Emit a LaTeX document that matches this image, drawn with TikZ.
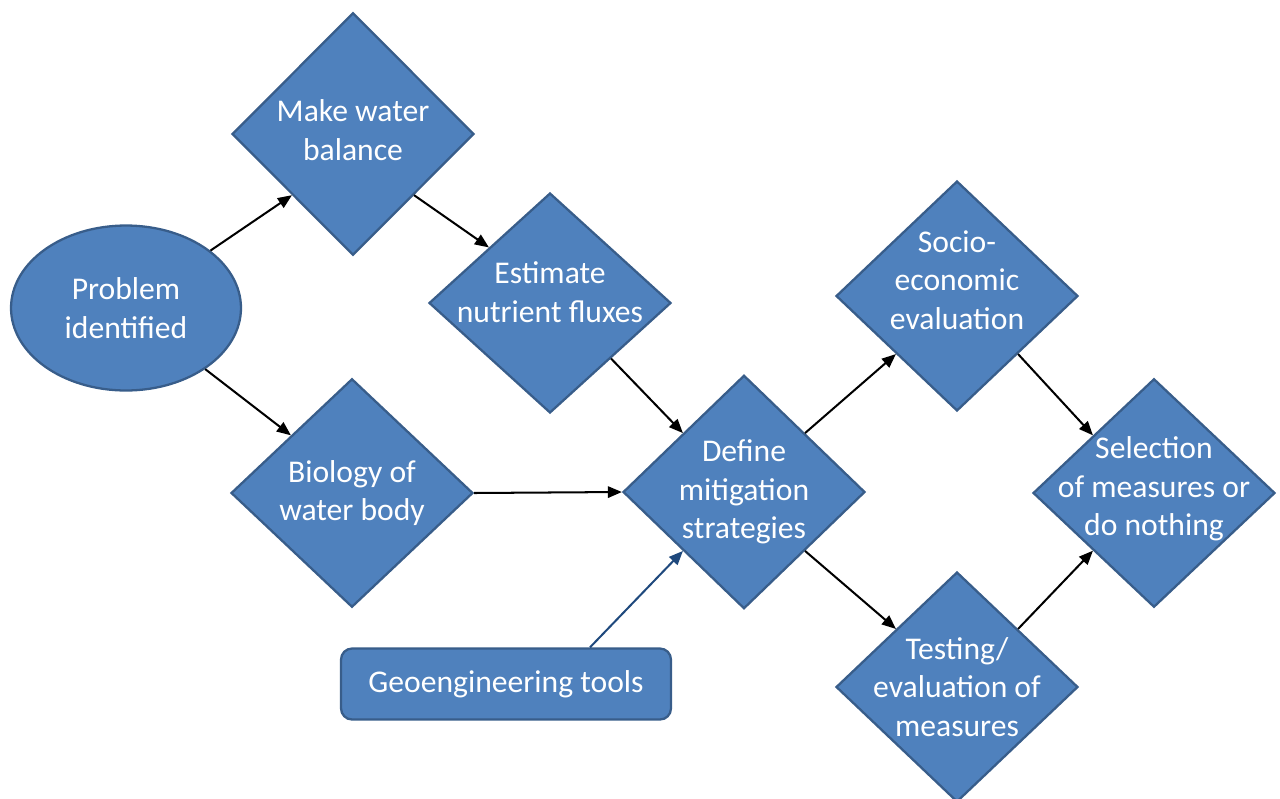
\documentclass[tikz,border=0pt]{standalone}
\usepackage{fontspec}
\setmainfont{Carlito}
\usetikzlibrary{positioning, shapes.geometric, arrows.meta}

\definecolor{boxblue}{HTML}{4F81BD}
\definecolor{boxline}{HTML}{385D8A}
\definecolor{geoarrow}{HTML}{1F497D}

\begin{document}
\begin{tikzpicture}[x=0.02cm, y=-0.02cm]
    % Styles
    \tikzset{
        stage/.style={diamond, draw=boxline, line width=1.3pt, fill=boxblue, inner sep=0pt, minimum width=4.84cm},
        stage_text/.style={text=white, align=center, inner sep=0pt, font=\fontsize{18}{22}\selectfont},
        start/.style={ellipse, draw=boxline, line width=1.3pt, fill=boxblue, text=white, align=center, minimum width=4.6cm, minimum height=3.3cm, font=\fontsize{18}{22}\selectfont},
        toolbox/.style={rectangle, rounded corners=0.22cm, draw=boxline, line width=1.3pt, fill=boxblue, text=white, minimum width=6.6cm, minimum height=1.42cm, font=\fontsize{18}{22}\selectfont},
        flow/.style={-{Triangle[length=8pt, width=6.5pt]}, line width=1.15pt, black}
    }

    \useasboundingbox (0,0) rectangle (1280,798);

    % --- Nodes ---

    % Start
    \node[start] (problem) at (126,308) {Problem\\identified};

    % First column
    \node[stage, minimum height=4.85cm, label={[stage_text, yshift=0.08cm]center:Make water\\balance}] (water) at (353,134) {};
    \node[stage, minimum height=4.57cm, label={[stage_text]center:Biology of\\water body}] (biology) at (352,493) {};

    % Second column
    \node[stage, minimum height=4.4cm, label={[stage_text, yshift=0.22cm]center:Estimate\\nutrient fluxes}] (nutrient) at (550,303) {};
    \node[stage, minimum height=4.67cm, label={[stage_text]center:Define\\mitigation\\strategies}] (mitigation) at (744,492) {};

    % Tools feeding the strategies
    \node[toolbox] (geo) at (506,684) {Geoengineering tools};

    % Evaluation column
    \node[stage, minimum height=4.6cm, label={[stage_text, yshift=0.32cm]center:Socio-\\economic\\evaluation}] (socio) at (957,296) {};
    \node[stage, minimum height=4.6cm, label={[stage_text]center:Testing/\\evaluation of\\measures}] (testing) at (957,687) {};

    % Final decision
    \node[stage, minimum height=4.57cm, label={[stage_text, yshift=0.08cm]center:Selection\\of measures or\\do nothing}] (selection) at (1154,493) {};

    % --- Connections ---

    \draw[flow] (problem) -- (water.south west);
    \draw[flow] (problem) -- (biology.north west);
    \draw[flow] (water.south east) -- (nutrient.north west);
    \draw[flow] (nutrient.south east) -- (mitigation.north west);
    \draw[flow] (biology.east) -- (mitigation.west);
    \draw[flow] (mitigation.north east) -- (socio.south west);
    \draw[flow] (mitigation.south east) -- (testing.north west);
    \draw[flow] (socio.south east) -- (selection.north west);
    \draw[flow] (testing.north east) -- (selection.south west);

    % Geoengineering input
    \draw[flow, geoarrow] ([xshift=1.68cm]geo.north) -- (mitigation.south west);

\end{tikzpicture}
\end{document}
